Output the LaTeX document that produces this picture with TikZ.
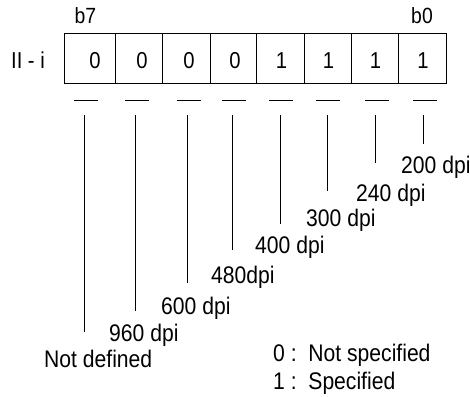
\documentclass[tikz,border=0pt]{standalone}
\usepackage{fontspec}
\setmainfont{Liberation Sans}[FakeStretch=0.88]
\begin{document}
\begin{tikzpicture}[x=1pt,y=-1pt,
  txt/.style={inner sep=0pt,font=\fontsize{23}{27}\selectfont},
  smalltxt/.style={inner sep=0pt,font=\fontsize{22}{26}\selectfont},
  lbl/.style={inner sep=0pt,anchor=base west,font=\fontsize{24}{28}\selectfont},
  key/.style={lbl},
  ln/.style={line width=0.9pt}]
\useasboundingbox (0,0) rectangle (470,396);
% register box
\draw[ln] (64.3,33.5) rectangle (446,83.5);
\foreach \x in {115.7,162.7,210,256.7,304,351,398.3}
  \draw[ln] (\x,33.5) -- (\x,83.5);
% bits
\foreach \x/\v/\n in {95/0/d7,142/0/d6,189/0/d5,235/0/d4,281.5/1/d3,328.5/1/d2,375.5/1/d1,423/1/d0}
  \node[txt,anchor=base] (\n) at (\x,68.3) {\v};
\node[txt,anchor=base] (rowlbl) at (28,68.3) {II - i};
\node[smalltxt,anchor=base] (b7) at (85.5,24) {b7};
\node[smalltxt,anchor=base] (b0) at (422,24) {b0};
% short bars
\foreach \x in {86,137,189,234,281,328,377,425}
  \draw[ln] (\x-12,100) -- (\x+12,100);
% leader lines
\foreach \x/\yb/\n in {423.7/144/a0,375.7/163.3/a1,327.3/191/a2,280.7/224/a3,232.7/250/a4,187.3/283/a5,135/311/a6,84.3/332/a7}{
  \coordinate (\n t) at (\x,115);
  \coordinate (\n b) at (\x,\yb);
  \draw[ln] (\n t) -- (\n b);
}
% labels
\node[lbl] (l0) at (401,173.3) {200 dpi};
\node[lbl] (l1) at (356,201.7) {240 dpi};
\node[lbl] (l2) at (306,226.7) {300 dpi};
\node[lbl] (l3) at (255,253.3) {400 dpi};
\node[lbl] (l4) at (211,283.3) {480dpi};
\node[lbl] (l5) at (161,314.3) {600 dpi};
\node[lbl] (l6) at (109,341.7) {960 dpi};
\node[lbl] (l7) at (44,367.7) {Not defined};
\node[key] (k0) at (273,361.7) {0 :\ \ Not specified};
\node[key] (k1) at (273,389.3) {1 :\ \ Specified};
\end{tikzpicture}
\end{document}
